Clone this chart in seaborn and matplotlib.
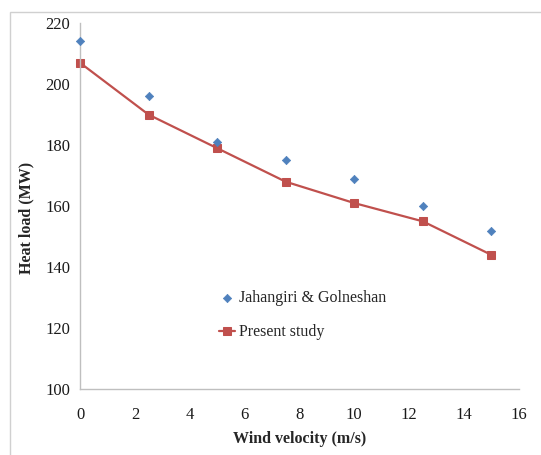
import matplotlib
matplotlib.use("Agg")
import matplotlib.pyplot as plt
import seaborn as sns
import pandas as pd
from matplotlib.patches import Rectangle

# Data
wind_velocity = [0, 2.5, 5, 7.5, 10, 12.5, 15]
jahangiri = [214, 196, 181, 175, 169, 160, 152]
present_study = [207, 190, 179, 168, 161, 155, 144]

df = pd.DataFrame({'Wind': wind_velocity, 'Jahangiri': jahangiri, 'Present': present_study})

sns.set_style("white")
plt.rcParams['font.family'] = ['Liberation Serif', 'DejaVu Serif']

fig = plt.figure(figsize=(5.41, 4.55), dpi=100)
ax = fig.add_axes([0.148, 0.145, 0.811, 0.804])

# light frame around the chart area
fig.patches.append(Rectangle((10 / 541, -0.05), 1.1, 0.05 + (455 - 12) / 455,
                             transform=fig.transFigure, fill=False,
                             edgecolor='#d0d0d0', linewidth=1.0))

sns.scatterplot(data=df, x='Wind', y='Jahangiri', ax=ax, marker='D', s=18,
                color='#4f81bd', edgecolor='#4f81bd', linewidth=0.5,
                label='Jahangiri & Golneshan', zorder=3, clip_on=False)
sns.lineplot(data=df, x='Wind', y='Present', ax=ax, marker='s', markersize=5.5,
             color='#c0504d', markeredgecolor='#c0504d', linewidth=1.6,
             label='Present study', zorder=2, clip_on=False)

ax.set_xlim(0, 16)
ax.set_ylim(100, 220)
ax.set_xticks(range(0, 17, 2))
ax.set_yticks(range(100, 221, 20))

for side in ['top', 'right']:
    ax.spines[side].set_visible(False)
for side in ['left', 'bottom']:
    ax.spines[side].set_color('#bfbfbf')
    ax.spines[side].set_linewidth(1.0)

ax.tick_params(axis='both', which='major', direction='out', length=4, width=1,
               color='#bfbfbf', labelsize=12, labelcolor='#1a1a1a')
ax.tick_params(axis='x', pad=9)
ax.tick_params(axis='y', pad=3)

ax.set_xlabel('Wind velocity (m/s)', fontsize=11.5, fontweight='bold', labelpad=6)
ax.set_ylabel('Heat load (MW)', fontsize=11.5, fontweight='bold')
ax.yaxis.set_label_coords(-0.103, 0.467)

ax.legend(loc='upper left', bbox_to_anchor=(0.285, 0.31), frameon=False,
          fontsize=11.5, handlelength=1.0, handletextpad=0.25, labelspacing=1.15)

fig.savefig('out.png', dpi=100)
